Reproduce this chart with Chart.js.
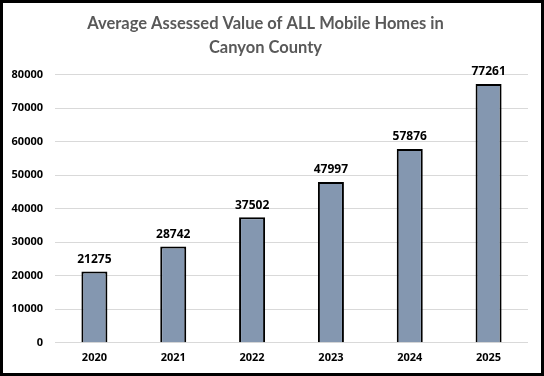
<!DOCTYPE html>
<html>
<head>
<meta charset="utf-8">
<script src="https://cdn.jsdelivr.net/npm/chart.js@4/dist/chart.umd.min.js"></script>
<style>
  html,body{margin:0;padding:0;background:#fff;}
  #wrap{width:544px;height:376px;box-sizing:border-box;border:3px solid #000;background:#fff;}
  canvas{display:block;}
</style>
</head>
<body>
<div id="wrap"><canvas id="chart" width="538" height="370"></canvas></div>
<script>
// chart data
const years = ["2020","2021","2022","2023","2024","2025"];
const avgValues = [21275, 28742, 37502, 47997, 57876, 77261];
const yTicks = [0,10000,20000,30000,40000,50000,60000,70000,80000];

const barLabels = {
  id: "barLabels",
  afterDatasetsDraw(chart) {
    const ctx = chart.ctx;
    const meta = chart.getDatasetMeta(0);
    ctx.save();
    ctx.font = "bold 12px 'Open Sans', sans-serif";
    ctx.fillStyle = "#000";
    ctx.textAlign = "center";
    ctx.textBaseline = "bottom";
    meta.data.forEach((bar, i) => {
      ctx.fillText(String(avgValues[i]), bar.x, bar.y - 6);
    });
    ctx.restore();
  }
};

new Chart(document.getElementById("chart"), {
  type: "bar",
  data: {
    labels: years,
    datasets: [{
      data: avgValues,
      backgroundColor: "#8497B0",
      borderColor: "#000",
      borderWidth: 2,
      borderSkipped: "bottom",
      categoryPercentage: 1,
      barPercentage: 0.33
    }]
  },
  options: {
    responsive: false,
    animation: false,
    layout: { padding: { left: 0, right: 13, top: 0, bottom: 9 } },
    plugins: {
      legend: { display: false },
      tooltip: { enabled: false },
      title: {
        display: true,
        text: ["Average Assessed Value of ALL Mobile Homes in", "Canyon County"],
        color: "#595959",
        font: { family: "Lato, sans-serif", size: 16.5, weight: "bold", lineHeight: 1.45 },
        padding: { top: 9, bottom: 15 }
      }
    },
    scales: {
      x: {
        grid: { display: false },
        border: { display: false },
        ticks: { color: "#000", font: { family: "'Open Sans', sans-serif", size: 11, weight: "bold" }, padding: 0 }
      },
      y: {
        min: 0, max: 80000,
        afterBuildTicks(axis) { axis.ticks = yTicks.map(v => ({ value: v })); },
        afterFit(axis) { axis.width = 52; },
        grid: { color: "#d9d9d9", drawTicks: false },
        border: { display: false },
        ticks: {
          color: "#000", font: { family: "'Open Sans', sans-serif", size: 11, weight: "bold" }, padding: 12,
          callback: v => String(v)
        }
      }
    }
  },
  plugins: [barLabels]
});
</script>
</body>
</html>
